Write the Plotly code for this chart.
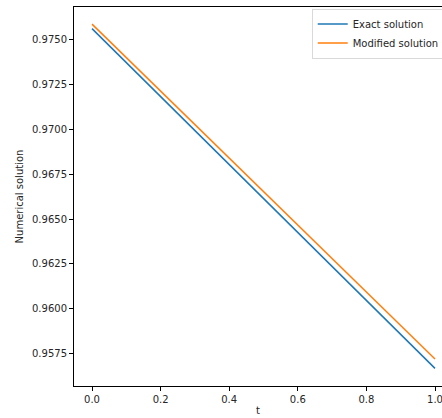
import plotly.graph_objects as go

t_values = [0.0, 0.2, 0.4, 0.6, 0.8, 1.0]
exact_solution = [0.97558, 0.97180, 0.96803, 0.96425, 0.96048, 0.95670]
modified_solution = [0.97583, 0.97211, 0.96838, 0.96466, 0.96094, 0.95722]

x_ticks = [0.0, 0.2, 0.4, 0.6, 0.8, 1.0]
y_ticks = [0.9575, 0.9600, 0.9625, 0.9650, 0.9675, 0.9700, 0.9725, 0.9750]

fig = go.Figure()
fig.add_trace(go.Scatter(x=t_values, y=exact_solution, mode="lines", name="Exact solution",
                         line=dict(color="#1f77b4", width=1.5)))
fig.add_trace(go.Scatter(x=t_values, y=modified_solution, mode="lines", name="Modified solution",
                         line=dict(color="#ff7f0e", width=1.5)))

font = dict(family="DejaVu Sans", size=10, color="#262626")
fig.update_layout(
    width=442, height=418,
    margin=dict(l=74, r=0, t=7, b=32, autoexpand=False),
    paper_bgcolor="white", plot_bgcolor="white",
    font=font,
    showlegend=True,
    legend=dict(x=0.646, y=0.996, xanchor="left", yanchor="top",
                bgcolor="rgba(255,255,255,0.8)", bordercolor="#d9d9d9", borderwidth=1,
                font=dict(family="DejaVu Sans", size=10, color="#262626"),
                tracegroupgap=0, itemwidth=30),
    xaxis=dict(range=[-0.0525, 1.0204], tickvals=x_ticks, tickformat=".1f",
               ticklabeloverflow="allow",
               showgrid=False, zeroline=False, showline=True, linecolor="black", linewidth=1,
               mirror=True, ticks="outside", ticklen=4, tickcolor="black",
               title=dict(text="t", standoff=2, font=font)),
    yaxis=dict(range=[0.95572, 0.97678], tickvals=y_ticks, tickformat=".4f",
               ticklabeloverflow="allow",
               showgrid=False, zeroline=False, showline=True, linecolor="black", linewidth=1,
               ticks="outside", ticklen=4, tickcolor="black",
               title=dict(text="Numerical solution", standoff=6, font=font)),
)

fig.write_html("out.html", config={"displayModeBar": False},
               post_script="document.body.style.margin='0';document.body.style.overflow='hidden';")
